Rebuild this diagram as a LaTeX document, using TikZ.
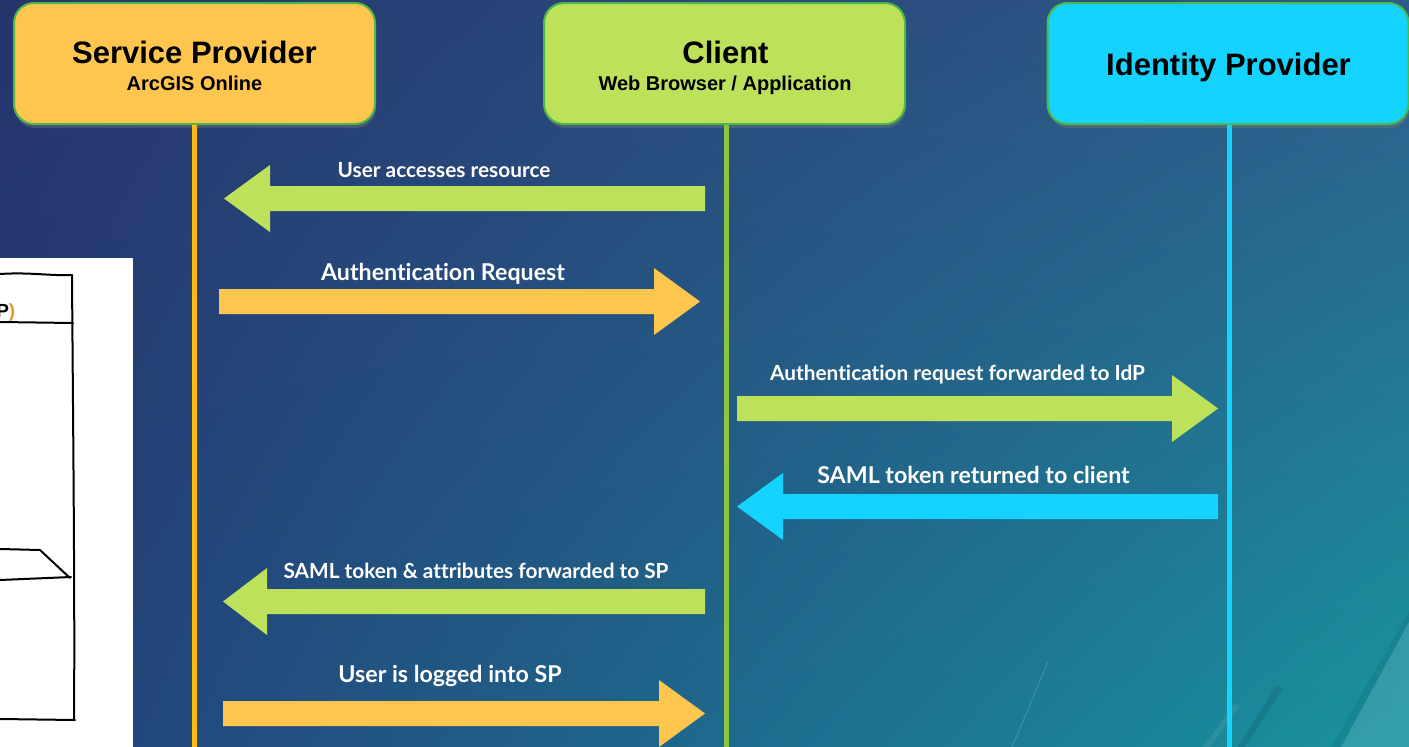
\documentclass[tikz,border=0pt]{standalone}
\usepackage{fontspec}
\setmainfont{Liberation Sans}
\newfontfamily\msgfont{Lato}[Ligatures=NoCommon]
\usetikzlibrary{shadows,shadings,calc}

\definecolor{spfill}{HTML}{FFC64F}
\definecolor{clfill}{HTML}{BDE15B}
\definecolor{idpfill}{HTML}{15D3FF}
\definecolor{boxedge}{HTML}{4DB848}
\definecolor{spline}{HTML}{FFBA10}
\definecolor{clline}{HTML}{8CC63F}
\definecolor{idpline}{HTML}{15D3FF}
\definecolor{bgUL}{HTML}{26346C}
\definecolor{bgUR}{HTML}{2E5C89}
\definecolor{bgLL}{HTML}{243F79}
\definecolor{bgLR}{HTML}{18949F}
\definecolor{sketchorange}{HTML}{E09A35}

\tikzset{
  party/.style={draw=boxedge, line width=2pt, rounded corners=20pt,
    minimum width=361pt, minimum height=121pt, inner sep=0pt,
    drop shadow={opacity=0.35, shadow xshift=1pt, shadow yshift=-4pt}},
  lifeline/.style={line width=5pt},
  title/.style={font=\fontsize{31}{31}\selectfont\bfseries, anchor=base, inner sep=0pt},
  subtitle/.style={font=\fontsize{20}{20}\selectfont\bfseries, anchor=base, inner sep=0pt},
  msg/.style={font=\msgfont\bfseries\fontsize{20.8}{20.8}\selectfont, text=white, anchor=base, inner sep=0pt},
  bigmsg/.style={font=\msgfont\bfseries\fontsize{23.2}{23.2}\selectfont, text=white, anchor=base, inner sep=0pt},
  sketch/.style={line width=2pt, black, line cap=round, line join=round},
}

% block arrow: colour, tail x, head base x, tip x, centre y
\newcommand{\msgarrow}[5]{%
  \fill[#1] (#2,#5-12.5) -- (#3,#5-12.5) -- (#3,#5-33.5) -- (#4,#5)
    -- (#3,#5+33.5) -- (#3,#5+12.5) -- (#2,#5+12.5) -- cycle;}

\begin{document}
\begin{tikzpicture}[x=1pt, y=-1pt]
  % background
  \shade[shading=bilinear interpolation,
         upper left=bgUL, upper right=bgUR, lower left=bgLL, lower right=bgLR]
    (0,0) rectangle (1409,747);
  \useasboundingbox (0,0) rectangle (1409,747);

  % faint decorative strokes in the lower right
  \fill[white, opacity=0.12] (1409,622) -- (1409,747) -- (1341,747) -- cycle;
  \fill[black, opacity=0.06] (1409,612) -- (1409,622) -- (1341,747) -- (1331,747) -- cycle;
  \fill[black, opacity=0.10] (1276,686) -- (1283,688) -- (1245,747) -- (1238,747) -- cycle;
  \fill[white, opacity=0.07] (1234,704) -- (1240,706) -- (1210,747) -- (1203,747) -- cycle;
  \draw[white, opacity=0.18, line width=0.8pt] (1048,662) -- (1012,747);

  % sketch panel on the left
  \fill[white] (0,258) rectangle (133,747);
  \draw[sketch] (0,274) .. controls (30,272) and (50,276) .. (72,275);
  \draw[sketch] (72,275) .. controls (73,420) and (75,600) .. (74,720);
  \draw[sketch] (0,322) -- (73,323);
  \draw[sketch] (0,549) -- (40,550) -- (70,578);
  \draw[sketch] (0,580) -- (71,577);
  \draw[sketch] (0,719) -- (75,720);
  \node[anchor=base east, inner sep=0pt, font=\fontsize{19}{19}\selectfont\bfseries] (sketchtext)
    at (15.5,317) {P\textcolor{sketchorange}{)}};

  % parties
  \node[party, fill=spfill]  (sp)  at (194.5,63.5) {};
  \node[party, fill=clfill]  (cl)  at (724.5,63.5) {};
  \node[party, fill=idpfill] (idp) at (1228,63.5) {};

  \node[title]    (sptitle)  at (194.5,63) {Service Provider};
  \node[subtitle] (spsub)    at (194.5,90) {ArcGIS Online};
  \node[title]    (cltitle)  at (725.5,63) {Client};
  \node[subtitle] (clsub)    at (725,90) {Web Browser / Application};
  \node[title]    (idptitle) at (1228.5,75) {Identity Provider};

  % lifelines
  \coordinate (spend)  at (194.5,747);
  \coordinate (clend)  at (726.5,747);
  \coordinate (idpend) at (1229,747);
  \draw[lifeline, spline]  (sp.south -| spend)  -- (spend);
  \draw[lifeline, clline]  (cl.south -| clend)  -- (clend);
  \draw[lifeline, idpline] (idp.south -| idpend) -- (idpend);

  % messages
  \msgarrow{clfill}{705}{270}{224}{198.5}
  \node[msg] (m1) at (444,177) {User accesses resource};

  \msgarrow{spfill}{219}{654}{700}{301.5}
  \node[bigmsg] (m2) at (443,280) {Authentication Request};

  \msgarrow{clfill}{737}{1172}{1218}{408.5}
  \node[msg] (m3) at (957.5,380) {Authentication request forwarded to IdP};

  \msgarrow{idpfill}{1218}{783}{737}{506.5}
  \node[bigmsg] (m4) at (973.5,483) {SAML token returned to client};

  \msgarrow{clfill}{705}{267}{223}{601.5}
  \node[msg] (m5) at (476,578) {SAML token \& attributes forwarded to SP};

  \msgarrow{spfill}{223}{659}{705}{713.5}
  \node[bigmsg] (m6) at (450,682) {User is logged into SP};
\end{tikzpicture}
\end{document}
